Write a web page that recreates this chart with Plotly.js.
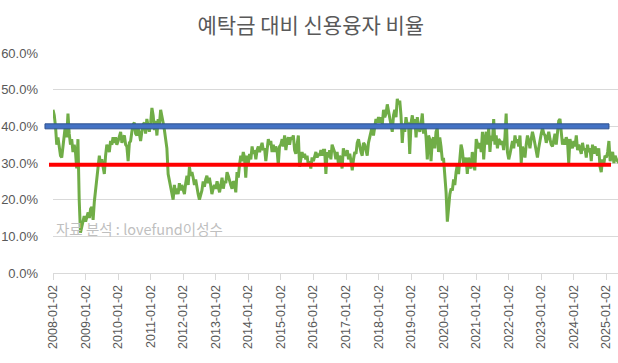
<!DOCTYPE html>
<html><head><meta charset="utf-8">
<script src="https://cdn.plot.ly/plotly-3.0.1.min.js"></script>
<style>html,body{margin:0;padding:0;background:#fff}#chart{width:618px;height:363px}</style>
</head><body><div id="chart"></div>
<script>
// 예탁금 대비 신용융자 비율 (%), values read roughly every two weeks from Jan 2 of each year
const y2008 = [44.5,43,40,35,37,34,32,31.5,35,38,40.5,37,43.5,38,35,36.5,33,35,33,28.5,36.5,20,11,12.5,14,15.5];
const y2009 = [14,15.5,16.5,15,17.5,18,14.5,19.5,22.5,25,28,32,29.5,31,29,27,32,35,34,33,36,35,37,35.5,37,35];
const y2010 = [36,37,38.5,35.5,37,37.5,35,34.5,30.5,35.5,36,38.5,40.5,41,38,37.5,39.5,38,36,38.5,40.5,41,38,42,39.5,38.5];
const y2011 = [41,45,43,39,41.5,37.5,42,40.5,44.5,43,41,39,36.5,34,27,25,24,22,20,24,21.5,23,21.5,24.5,22.5,24];
const y2012 = [23,21.5,24.5,26.5,24,29,26.5,27.5,26,24,25.5,23,21.5,20,21.5,22.5,25,23.5,25.5,26.5,24.5,26,24,21.5,23,24];
const y2013 = [23,25,23.5,22,24,26,23,25,24.5,27.5,26.5,25,24,23,25,24.5,22,27.5,26,29.5,32,30.5,33,31.5,26,32];
const y2014 = [30,32.5,31,34.5,32.5,33.5,31,33.5,34.5,33,34,35.5,33.5,34,30.5,34,36.5,35,36,33,35,33,34.5,33.5,29.5,34.5];
const y2015 = [35,36.5,34.5,37.5,33.5,36,37,35,37,36.5,37.5,33.5,32.5,35,37.5,29,31.5,33,31.5,32.5,31,32,29.5,30.5,28.5,31.5];
const y2016 = [30.5,31.5,33,31.5,32.5,32,33.5,32,33.5,33.5,27,33,31.5,33.5,31,35,34,33,31,33,30,32,31,28.5,34,32.5];
const y2017 = [32,33.5,31,32.5,30.5,28,31,33,32.5,35.5,36.5,34.5,33,32,35.5,35,33,32,35.5,37,38.5,40,37.5,40.5,42,41];
const y2018 = [42.5,41,42.5,40.5,44.5,42.5,43.5,46,44,41.5,40.5,38.5,43,44.5,42.5,47.5,46,47,43,35.5,40.5,38.5,42.5,40.5,41,32.5];
const y2019 = [41,43,40,42,37,42.5,40,38.5,40.5,43.5,38,40.5,37,31,37.5,36.5,30.5,36,37,34,38.5,39.5,33,37,34.5,31];
const y2020 = [31,27.5,22,14,19,21.5,23,22.5,25.5,24,27.5,29.5,27,31,35,33.5,30,29.5,31.5,27,31.5,29.5,28.5,33,30.5,28];
const y2021 = [36.5,35,34,35.5,33,38.5,31,36.5,38.5,35,39.5,33,37.5,36,42,35,37.5,34,36.5,36,35,36,33.5,37,43.5,33];
const y2022 = [31,32.5,34.5,36,34,37.5,35.5,36.5,34.5,37.5,30,34.5,33,31.5,35,37.5,36,34,36.5,38.5,37,35,33,31.5,34,36.5];
const y2023 = [38,39.5,38,37.5,35.5,37,38.5,36.5,35,34.5,37,38,35,39.5,41.5,42,37.5,35,36.5,35,37,36,30,36.5,35,34];
const y2024 = [36,34.5,37.5,33.5,35,34,32.5,35.5,33.5,34,31.5,35,33,34,30.5,35,32.5,34.5,33,32,34,29,27.5,31,29.5,32];
const y2025 = [31.5,33,36,30.5,32,33,30,32,31,30.5,31];

const seriesYears = [2008,2009,2010,2011,2012,2013,2014,2015,2016,2017,2018,2019,2020,2021,2022,2023,2024,2025];
const seriesByYear = [y2008,y2009,y2010,y2011,y2012,y2013,y2014,y2015,y2016,y2017,y2018,y2019,y2020,y2021,y2022,y2023,y2024,y2025];

const tickLabels = ['2008-01-02','2009-01-02','2010-01-02','2011-01-02','2012-01-02','2013-01-02','2014-01-02','2015-01-02','2016-01-02','2017-01-02','2018-01-02','2019-01-02','2020-01-02','2021-01-02','2022-01-02','2023-01-02','2024-01-02','2025-01-02'];

const upperLevel = 40;   // 파란 선
const lowerLevel = 29.5; // 빨간 선

const titleText = '예탁금 대비 신용융자 비율';
const sourceText = '자료 분석 : lovefund이성수';

const xs = [], ys = [];
seriesYears.forEach((yr, i) => {
  const base = Date.UTC(yr, 0, 2);
  seriesByYear[i].forEach((v, k) => {
    xs.push(new Date(base + k * 14 * 864e5).toISOString().slice(0, 10));
    ys.push(v);
  });
});

const fontFam = '"Liberation Sans", Arial, "Noto Sans CJK KR", sans-serif';
const cjk = '"Noto Sans CJK KR", "Liberation Sans", sans-serif';

const trace = {
  x: xs, y: ys, type: 'scatter', mode: 'lines',
  line: {color: '#70AD47', width: 3},
  hoverinfo: 'skip', showlegend: false
};

const layout = {
  width: 618, height: 363,
  margin: {l: 53, r: 0, t: 53, b: 90},
  paper_bgcolor: '#ffffff', plot_bgcolor: '#ffffff',
  title: {text: titleText, font: {family: cjk, size: 21, color: '#595959'},
          x: 0.503, xanchor: 'center', xref: 'container', y: 1 - 26/363, yanchor: 'middle', yref: 'container'},
  xaxis: {
    type: 'date', range: ['2008-01-02', '2025-05-12'],
    tickmode: 'array', tickvals: tickLabels, ticktext: tickLabels,
    tickangle: -90, tickfont: {family: fontFam, size: 12.5, color: '#595959'},
    ticks: 'outside', ticklen: 6, tickcolor: '#d9d9d9', tickwidth: 1,
    showgrid: false, showline: true, linecolor: '#d9d9d9', linewidth: 1,
    zeroline: false, fixedrange: true
  },
  yaxis: {
    range: [0, 60], dtick: 10, tickmode: 'linear', tick0: 0,
    tickformat: '.1f', ticksuffix: '%',
    tickfont: {family: fontFam, size: 13, color: '#595959'},
    ticks: '', ticklabelstandoff: 14,
    showgrid: true, gridcolor: '#d9d9d9', gridwidth: 1,
    zeroline: false, showline: false, fixedrange: true
  },
  shapes: [
    {type: 'rect', xref: 'paper', yref: 'y', x0: -0.0142, x1: 0.984,
     ysizemode: 'pixel', yanchor: upperLevel, y0: -2.5, y1: 2.5,
     fillcolor: '#4472C4', line: {color: '#2F528F', width: 1}, layer: 'above'},
    {type: 'line', xref: 'paper', yref: 'y', x0: -0.0071, x1: 0.9876,
     y0: lowerLevel, y1: lowerLevel, line: {color: '#FF0000', width: 4}, layer: 'above'}
  ],
  annotations: [
    {text: sourceText, xref: 'paper', yref: 'paper', x: 0.002, y: 45/220,
     xanchor: 'left', yanchor: 'middle', showarrow: false,
     font: {family: cjk, size: 14.5, color: '#bfbfbf'}}
  ]
};

Plotly.newPlot('chart', [trace], layout, {staticPlot: true, displayModeBar: false});
</script></body></html>
